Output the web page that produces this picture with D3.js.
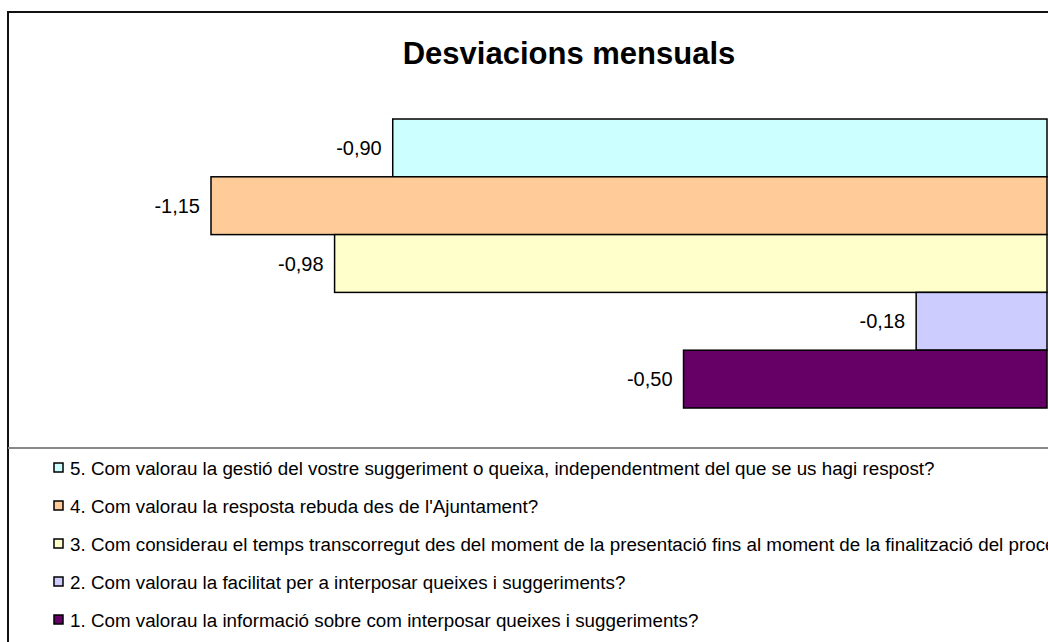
<!DOCTYPE html>
<html>
<head>
<meta charset="utf-8">
<script src="https://cdn.jsdelivr.net/npm/d3@7"></script>
<style>
  html, body { margin: 0; padding: 0; background: #fff; overflow: hidden; }
  svg { display: block; font-family: "Liberation Sans", Arial, sans-serif; }
</style>
</head>
<body>
<div id="chart"></div>
<script>
// Chart data (top to bottom as drawn)
const categories = ['5', '4', '3', '2', '1'];
const values = [-0.90, -1.15, -0.98, -0.18, -0.50];
const colors = ['#CCFFFF', '#FFCC99', '#FFFFCC', '#CCCCFF', '#660066'];
const legendLabels = [
    '5. Com valorau la gestió del vostre suggeriment o queixa, independentment del que se us hagi respost?',
    "4. Com valorau la resposta rebuda des de l'Ajuntament?",
    '3. Com considerau el temps transcorregut des del moment de la presentació fins al moment de la finalització del procés?',
    '2. Com valorau la facilitat per a interposar queixes i suggeriments?',
    '1. Com valorau la informació sobre com interposar queixes i suggeriments?'
];

const width = 1048;
const height = 642;

const container = document.getElementById('chart');
container.innerHTML = '';

const svg = d3.select(container)
    .append('svg')
    .attr('width', width)
    .attr('height', height);

// Outer chart frame (runs off the right and bottom edges)
svg.append('rect')
    .attr('x', 8)
    .attr('y', 12)
    .attr('width', 1200)
    .attr('height', 800)
    .attr('fill', '#fff')
    .attr('stroke', '#111')
    .attr('stroke-width', 2);

// Title
svg.append('text')
    .attr('x', 569)
    .attr('y', 64)
    .attr('text-anchor', 'middle')
    .attr('font-size', '31px')
    .attr('font-weight', 'bold')
    .attr('fill', '#000')
    .text('Desviacions mensuals');

// Scales
const xScale = d3.scaleLinear()
    .domain([-1.15, 0])
    .range([211, 1047]);

const yScale = d3.scaleBand()
    .domain(categories)
    .range([119, 408])
    .padding(0);

const data = categories.map((c, i) => ({ cat: c, value: values[i], color: colors[i] }));

// Bars
svg.selectAll('.bar')
    .data(data)
    .enter()
    .append('rect')
    .attr('class', 'bar')
    .attr('x', d => xScale(d.value))
    .attr('y', d => yScale(d.cat))
    .attr('width', d => xScale(0) - xScale(d.value))
    .attr('height', yScale.bandwidth())
    .attr('fill', d => d.color)
    .attr('stroke', '#000')
    .attr('stroke-width', 1.5);

// Value labels (comma decimals, plain hyphen)
svg.selectAll('.label')
    .data(data)
    .enter()
    .append('text')
    .attr('class', 'label')
    .attr('x', d => xScale(d.value) - 11)
    .attr('y', d => yScale(d.cat) + yScale.bandwidth() / 2)
    .attr('dy', '0.35em')
    .attr('text-anchor', 'end')
    .attr('font-size', '20px')
    .attr('fill', '#000')
    .text(d => '-' + Math.abs(d.value).toFixed(2).replace('.', ','));

// Separator above legend
svg.append('line')
    .attr('x1', 8)
    .attr('x2', width)
    .attr('y1', 448)
    .attr('y2', 448)
    .attr('stroke', '#888')
    .attr('stroke-width', 2);

// Legend
const legend = svg.selectAll('.legend')
    .data(data)
    .enter()
    .append('g')
    .attr('class', 'legend')
    .attr('transform', (d, i) => `translate(54,${468 + i * 38})`);

legend.append('rect')
    .attr('x', 0)
    .attr('y', -5)
    .attr('width', 9)
    .attr('height', 9)
    .attr('fill', d => d.color)
    .attr('stroke', '#000')
    .attr('stroke-width', 1.5);

legend.append('text')
    .attr('x', 16)
    .attr('y', 0)
    .attr('dy', '0.35em')
    .attr('font-size', '18.8px')
    .attr('fill', '#000')
    .text((d, i) => legendLabels[i]);
</script>
</body>
</html>
